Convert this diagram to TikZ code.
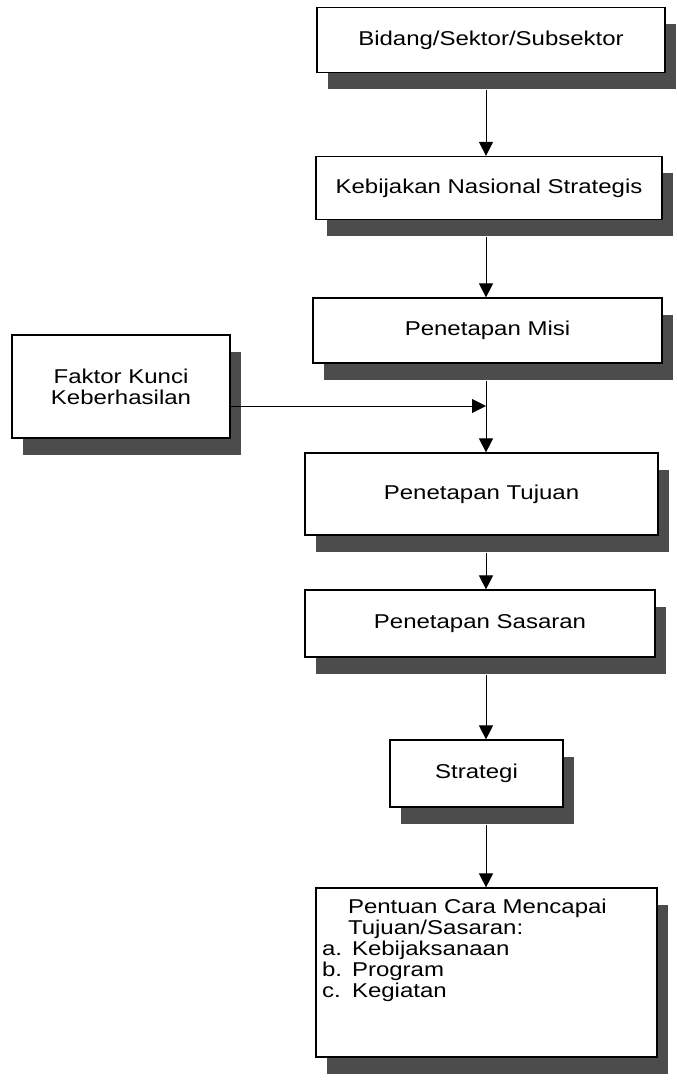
\documentclass[tikz,border=0pt]{standalone}
\usepackage{fontspec}
\setmainfont{Liberation Sans}[FakeStretch=1.2]
\usepackage{tikz}
\usetikzlibrary{arrows.meta,shadows,calc}

\begin{document}
\begin{tikzpicture}[x=0.5pt, y=-0.5pt,
  kotak/.style={draw=black, line width=0.6pt, fill=white, rectangle, inner sep=3pt,
    font=\fontsize{10}{10.5}\selectfont, align=center,
    drop shadow={shadow xshift=5.5pt, shadow yshift=-8.5pt, fill=black!70, opacity=1}},
  panah/.style={black, line width=0.5pt, -{Triangle[length=7pt, width=7pt]}}]
  \useasboundingbox (0,0) rectangle (676,1080);
  \coordinate (poros) at (486,0);
  \coordinate (temu) at (486,406);
  % kotak utama
  \node[kotak, minimum width=174pt, minimum height=32.5pt] (bidang) at (491,40) {Bidang/Sektor/Subsektor};
  \node[kotak, minimum width=173pt, minimum height=31.5pt] (kebijakan) at (489,188) {Kebijakan Nasional Strategis};
  \node[kotak, minimum width=174.5pt, minimum height=32.5pt] (misi) at (487.5,330.5) {Penetapan Misi};
  \node[kotak, minimum width=109pt, minimum height=51.5pt] (faktor) at (121,386.5) {Faktor Kunci\\Keberhasilan};
  \node[kotak, minimum width=176.5pt, minimum height=41pt] (tujuan) at (481.5,494) {Penetapan Tujuan};
  \node[kotak, minimum width=175pt, minimum height=33.5pt] (sasaran) at (480,623.5) {Penetapan Sasaran};
  \node[kotak, minimum width=86.5pt, minimum height=33.5pt] (strategi) at (476.5,773.5) {Strategi};
  \node[kotak, minimum height=84.5pt, text width=164.5pt, align=left] (pentuan) at (486.5,972.5)
    {\hspace*{13pt}Pentuan Cara Mencapai\\
     \hspace*{13pt}Tujuan/Sasaran:\\
     \makebox[15pt][l]{a.}Kebijaksanaan\\
     \makebox[15pt][l]{b.}Program\\
     \makebox[15pt][l]{c.}Kegiatan\\[14pt]\mbox{}};
  % panah
  \draw[panah] ($(bidang.south -| poros)+(0,17)$) -- (kebijakan.north -| poros);
  \draw[panah] ($(kebijakan.south -| poros)+(0,17)$) -- (misi.north -| poros);
  \draw[panah] ($(misi.south -| poros)+(0,17)$) -- (tujuan.north -| poros);
  \draw[panah] (faktor.east |- temu) -- (temu);
  \draw[panah] ($(tujuan.south -| poros)+(0,17)$) -- (sasaran.north -| poros);
  \draw[panah] ($(sasaran.south -| poros)+(0,17)$) -- (strategi.north -| poros);
  \draw[panah] ($(strategi.south -| poros)+(0,17)$) -- (pentuan.north -| poros);
\end{tikzpicture}
\end{document}
